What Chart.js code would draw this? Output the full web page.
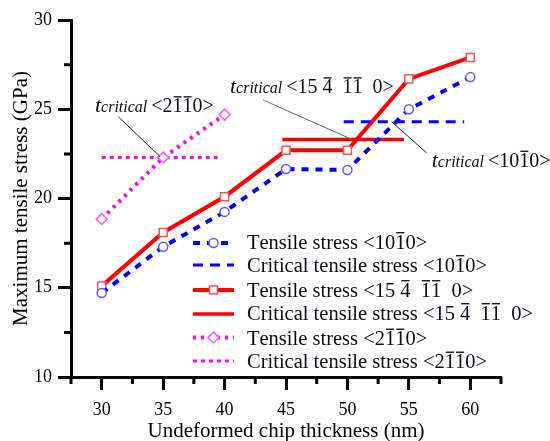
<!DOCTYPE html>
<html>
<head>
<meta charset="utf-8">
<script src="https://cdn.jsdelivr.net/npm/chart.js@4.4.1/dist/chart.umd.min.js"></script>
<style>
  html, body { margin: 0; padding: 0; background: #fff; }
  #wrap { width: 550px; height: 441px; }
</style>
</head>
<body>
<div id="wrap"><canvas id="stress-chart" width="550" height="441"></canvas></div>
<script>
const SERIF = "'Liberation Serif', 'Times New Roman', serif";

// undeformed chip thickness (nm)
const thickness = [30, 35, 40, 45, 50, 55, 60];
const thickness2110 = [30, 35, 40];

// maximum tensile stress (GPa) per orientation
const stress1010 = [14.7, 17.3, 19.25, 21.65, 21.6, 25.0, 26.8];
const stress15411 = [15.1, 18.1, 20.1, 22.7, 22.7, 26.7, 27.9];
const stress2110 = [18.85, 22.3, 24.7];

// critical tensile stress levels, drawn as short horizontal segments
const critical1010X = [49.7, 59.5];
const critical1010Y = [24.3, 24.3];
const critical15411X = [44.7, 54.6];
const critical15411Y = [23.3, 23.3];
const critical2110X = [30, 39.5];
const critical2110Y = [22.3, 22.3];

// axis ticks
const xTicks = [30, 35, 40, 45, 50, 55, 60];
const xMinorTicks = [27.5, 32.5, 37.5, 42.5, 47.5, 52.5, 57.5, 62.5];
const yTicks = [10, 15, 20, 25, 30];
const yMinorTicks = [12.5, 17.5, 22.5, 27.5];

// '~' puts a bar over the next digit
const legendLabels = [
  'Tensile stress <10~10>',
  'Critical tensile stress <10~10>',
  'Tensile stress <15 ~4  ~1~1  0>',
  'Critical tensile stress <15 ~4  ~1~1  0>',
  'Tensile stress <2~1~10>',
  'Critical tensile stress <2~1~10>'
];

// t_critical callouts, placed in data units
const callouts = [
  { label: '<2~1~10>', at: [29.45, 24.83], from: [31.35, 24.58], to: [34.75, 22.35], color: '#222' },
  { label: '<15 ~4  ~1~1  0>', at: [40.44, 25.89], from: [43.13, 25.52], to: [50.4, 23.3], color: '#666' },
  { label: '<10~10>', at: [56.86, 21.78], from: [56.45, 22.55], to: [53.6, 24.3], color: '#222' }
];

const pts = (xs, ys) => xs.map((x, i) => ({ x: x, y: ys[i] }));

const datasets = [
  {
    data: pts(thickness, stress1010),
    borderColor: '#0000ff', borderWidth: 4, borderDash: [7, 7],
    pointStyle: 'circle', pointRadius: 4.5, pointBorderWidth: 1.5,
    pointBorderColor: '#5a5aff', pointBackgroundColor: '#fff'
  },
  {
    data: pts(critical1010X, critical1010Y),
    borderColor: '#0000ff', borderWidth: 3, borderDash: [10, 7], pointRadius: 0
  },
  {
    data: pts(thickness, stress15411),
    borderColor: '#ff0000', borderWidth: 4,
    pointStyle: 'rect', pointRadius: 5.7, pointBorderWidth: 1.5,
    pointBorderColor: '#ff5050', pointBackgroundColor: '#fff'
  },
  {
    data: pts(critical15411X, critical15411Y),
    borderColor: '#ff0000', borderWidth: 3.5, pointRadius: 0
  },
  {
    data: pts(thickness2110, stress2110),
    borderColor: '#ff00ff', borderWidth: 4, borderDash: [3, 5],
    pointStyle: 'rectRot', pointRadius: 5.5, pointBorderWidth: 1.5,
    pointBorderColor: '#ff55ff', pointBackgroundColor: '#fff'
  },
  {
    data: pts(critical2110X, critical2110Y),
    borderColor: '#ff00ff', borderWidth: 3, borderDash: [4, 4], pointRadius: 0
  }
];
datasets.forEach((d, i) => { d.label = legendLabels[i].replace(/~/g, ''); d.tension = 0; d.fill = false; });

// text with overbarred digits, returns x after the last char
function drawMarked(ctx, text, x, y, size) {
  let cx = x;
  for (let i = 0; i < text.length; i++) {
    let ch = text[i];
    const bar = ch === '~';
    if (bar) ch = text[++i];
    const w = ctx.measureText(ch).width;
    ctx.fillText(ch, cx, y);
    if (bar) ctx.fillRect(cx + w * 0.1, y - size * 0.68 - 2.5, w * 0.8, Math.max(1.2, size * 0.065));
    cx += w;
  }
  return cx;
}

const decor = {
  id: 'decor',
  afterDraw(chart) {
    const ctx = chart.ctx;
    const xs = chart.scales.x, ys = chart.scales.y;
    const area = chart.chartArea;

    // minor ticks
    ctx.save();
    ctx.strokeStyle = '#000';
    ctx.lineWidth = 3;
    ctx.beginPath();
    xMinorTicks.forEach(v => {
      const px = xs.getPixelForValue(v);
      ctx.moveTo(px, area.bottom);
      ctx.lineTo(px, area.bottom + 7);
    });
    yMinorTicks.forEach(v => {
      const py = ys.getPixelForValue(v);
      ctx.moveTo(area.left, py);
      ctx.lineTo(area.left - 7, py);
    });
    ctx.stroke();
    ctx.restore();

    // legend
    const rowY = [243, 265, 290, 314, 337.5, 361];
    const textY = [248.5, 271.5, 296.5, 319.5, 345, 368];
    chart.data.datasets.forEach((ds, i) => {
      const y = rowY[i];
      ctx.save();
      ctx.strokeStyle = ds.borderColor;
      ctx.lineWidth = ds.borderWidth;
      ctx.setLineDash(ds.borderDash || []);
      ctx.beginPath();
      ctx.moveTo(193, y);
      ctx.lineTo(234, y);
      ctx.stroke();
      ctx.setLineDash([]);
      if (ds.pointRadius > 0) {
        ctx.fillStyle = ds.pointBackgroundColor;
        ctx.strokeStyle = ds.pointBorderColor;
        ctx.lineWidth = ds.pointBorderWidth;
        Chart.helpers.drawPoint(ctx, {
          pointStyle: ds.pointStyle, rotation: 0,
          radius: ds.pointRadius, borderWidth: ds.pointBorderWidth
        }, 213.5, y);
      }
      ctx.fillStyle = '#0b0b18';
      ctx.font = '20.5px ' + SERIF;
      ctx.textBaseline = 'alphabetic';
      drawMarked(ctx, legendLabels[i], 247, textY[i], 20.5);
      ctx.restore();
    });

    // t_critical callouts with leader lines
    callouts.forEach(c => {
      ctx.save();
      ctx.strokeStyle = c.color;
      ctx.lineWidth = 1;
      ctx.beginPath();
      ctx.moveTo(xs.getPixelForValue(c.from[0]), ys.getPixelForValue(c.from[1]));
      ctx.lineTo(xs.getPixelForValue(c.to[0]), ys.getPixelForValue(c.to[1]));
      ctx.stroke();

      let x = xs.getPixelForValue(c.at[0]);
      const y = ys.getPixelForValue(c.at[1]);
      ctx.fillStyle = '#0b0b18';
      ctx.textBaseline = 'alphabetic';
      ctx.font = 'italic 22px ' + SERIF;
      ctx.fillText('t', x, y);
      x += ctx.measureText('t').width;
      ctx.font = 'italic 16px ' + SERIF;
      ctx.fillText('critical', x, y);
      x += ctx.measureText('critical').width + 4;
      ctx.font = '20px ' + SERIF;
      drawMarked(ctx, c.label, x, y, 20);
      ctx.restore();
    });
  }
};

new Chart(document.getElementById('stress-chart'), {
  type: 'line',
  data: { datasets: datasets },
  options: {
    responsive: false,
    animation: false,
    events: [],
    layout: { autoPadding: false, padding: { top: 20, right: 49, left: 0, bottom: 0 } },
    plugins: { legend: { display: false }, tooltip: { enabled: false } },
    scales: {
      x: {
        type: 'linear', min: 27.5, max: 62.5,
        afterBuildTicks: s => { s.ticks = xTicks.map(v => ({ value: v })); },
        afterFit: s => { s.height = 64; },
        border: { display: true, width: 3, color: '#000' },
        grid: { drawOnChartArea: false, drawTicks: true, tickLength: 13, tickWidth: 3, tickColor: '#000' },
        ticks: { color: '#000', font: { family: SERIF, size: 18 }, padding: 9, maxRotation: 0 },
        title: {
          display: true, text: 'Undeformed chip thickness (nm)', color: '#000',
          font: { family: SERIF, size: 21 }, padding: { top: 0, bottom: -3 }
        }
      },
      y: {
        type: 'linear', min: 10, max: 30,
        afterBuildTicks: s => { s.ticks = yTicks.map(v => ({ value: v })); },
        afterFit: s => { s.width = 71; },
        border: { display: true, width: 3, color: '#000' },
        grid: { drawOnChartArea: false, drawTicks: true, tickLength: 13, tickWidth: 3, tickColor: '#000' },
        ticks: { color: '#000', font: { family: SERIF, size: 18 }, padding: 6 },
        title: {
          display: true, text: 'Maximum tensile stress (GPa)', color: '#000',
          font: { family: SERIF, size: 21 }, padding: { top: 9, bottom: 0 }
        }
      }
    }
  },
  plugins: [decor]
});
</script>
</body>
</html>
